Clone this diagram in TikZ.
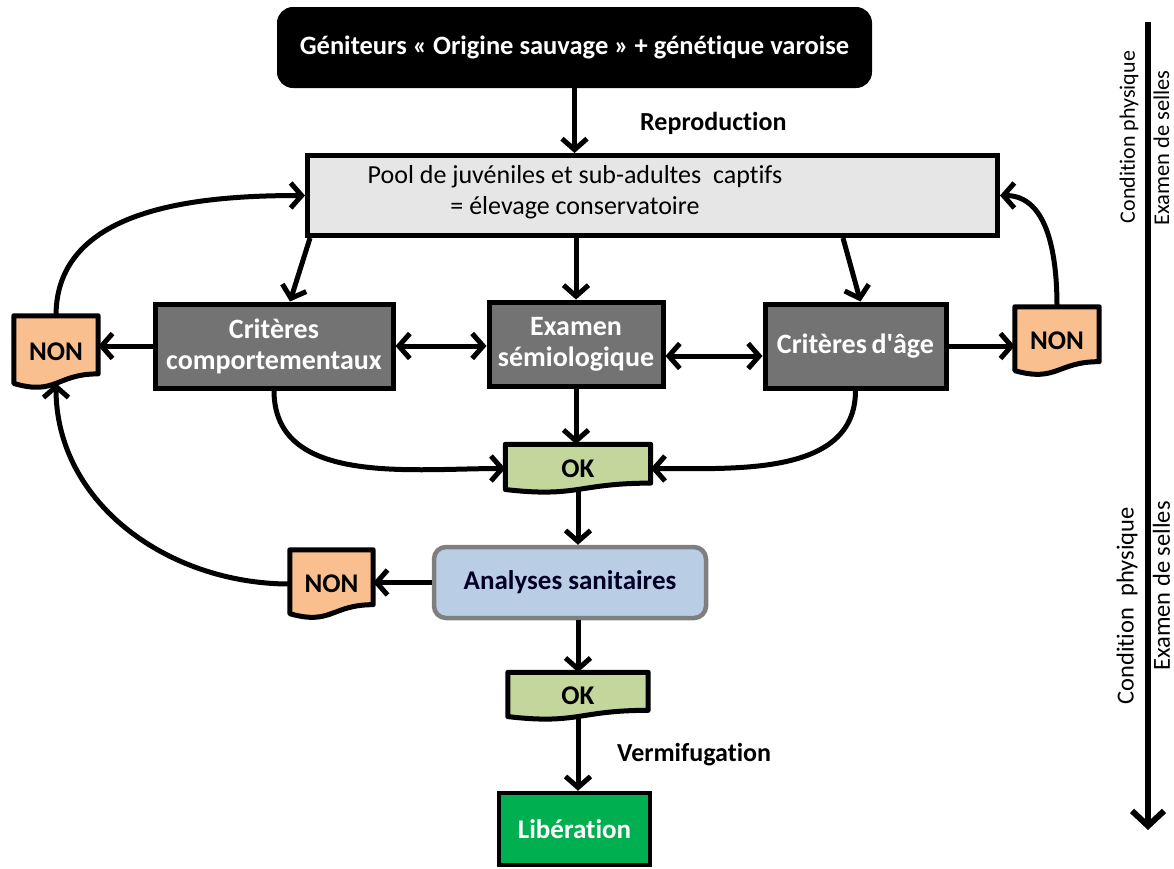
\documentclass[tikz,border=0pt]{standalone}
\usepackage{fontspec}
\setmainfont{Carlito}[Ligatures={NoCommon}]
\newfontfamily\nomap{Carlito}[Ligatures={NoCommon}]
\usetikzlibrary{arrows.meta,calc,backgrounds}
\definecolor{nonfill}{HTML}{F9BF8F}
\definecolor{okfill}{HTML}{C3D69B}
\definecolor{poolfill}{HTML}{E6E6E6}
\definecolor{grayfill}{HTML}{737373}
\definecolor{sanfill}{HTML}{B9CDE5}
\definecolor{sanborder}{HTML}{7F7F7F}
\definecolor{libfill}{HTML}{00B050}
\newcommand\mydocshape[2]{%
  \path[draw=black, line width=5pt, line join=round, fill=#2]
    (#1.north west) -- (#1.north east)
    -- ($(#1.north east)!0.802!(#1.south east)$)
    .. controls ($(#1.north)!0.802!(#1.south)$) and ($(#1.north)!1.107!(#1.south)$)
    .. ($(#1.north west)!0.934!(#1.south west)$) -- cycle;}
\begin{document}
\begin{tikzpicture}[x=1pt,y=1pt,
  bigfont/.style={font=\bfseries\fontsize{28}{31}\selectfont},
  topbox/.style={draw=black, fill=black, line width=4pt, rounded corners=14pt, inner sep=0pt, text=white, font=\bfseries\fontsize{26.5}{30}\selectfont},
  poolbox/.style={draw=black, fill=poolfill, line width=5pt, inner sep=0pt},
  pooltext/.style={align=center, inner sep=0pt, font=\fontsize{26}{31}\selectfont},
  graybox/.style={draw=black, fill=grayfill, line width=5pt, inner sep=0pt, align=center, text=white, bigfont},
  docnode/.style={inner sep=0pt, font=\bfseries\fontsize{27}{30}\selectfont},
  sanbox/.style={draw=sanborder, fill=sanfill, line width=4.5pt, rounded corners=12pt, inner sep=0pt, text={black!85!blue}, font=\bfseries\fontsize{27}{30}\selectfont},
  libbox/.style={draw=black, fill=libfill, line width=4.5pt, inner sep=0pt, text=white, font=\bfseries\fontsize{27}{30}\selectfont},
  lbl/.style={inner sep=0pt, anchor=west, font=\bfseries\fontsize{26}{30}\selectfont},
  sidetop/.style={inner sep=0pt, font=\fontsize{22}{26}\selectfont},
  sidetopb/.style={inner sep=0pt, font=\fontsize{22.5}{27}\selectfont},
  sidebot/.style={inner sep=0pt, font=\fontsize{24.5}{28}\selectfont},
  sidebotb/.style={inner sep=0pt, font=\fontsize{24.5}{29}\selectfont},
  conn/.style={line width=5pt, -{Straight Barb[length=11pt,width=25pt]}},
  dconn/.style={line width=5pt, {Straight Barb[length=11pt,width=25pt]}-{Straight Barb[length=11pt,width=25pt]}}
]
\useasboundingbox (0,0) rectangle (1174,-868);

% nodes
\node[topbox, minimum width=591, minimum height=77] (top) at (574.5,-47.5) {Géniteurs « Origine sauvage » + génétique varoise};
\node[poolbox, minimum width=690, minimum height=80] (pool) at (652.5,-195.5) {};
\node[pooltext] (pooltxt) at (575,-192.5) {Pool de juvéniles et sub-adultes\ \ captifs\\= élevage conservatoire};
\node[graybox, minimum width=238, minimum height=84] (crit) at (274,-346) {Critères\\comportementaux};
\node[graybox, minimum width=174, minimum height=84] (exam) at (576,-344) {Examen\\sémiologique};
\node[graybox, minimum width=181, minimum height=84] (age) at (855.5,-346) {Critères\,d{\nomap\symbol{39}}âge};
\node[docnode, minimum width=84, minimum height=72] (non1) at (56,-352) {NON};
\node[docnode, minimum width=84, minimum height=68] (non2) at (1057,-341) {NON};
\node[docnode, minimum width=145, minimum height=48] (ok1) at (578,-468.5) {OK};
\node[sanbox, minimum width=272, minimum height=71] (san) at (570,-582.5) {Analyses sanitaires};
\node[docnode, minimum width=83, minimum height=68] (non3) at (331.5,-584) {NON};
\node[docnode, minimum width=140, minimum height=47] (ok2) at (578,-696) {OK};
\node[libbox, minimum width=151, minimum height=72] (lib) at (574.5,-829) {Libération};
\node[lbl] (repro) at (640,-123) {Reproduction};
\node[lbl] (vermi) at (617,-755) {Vermifugation};

\begin{scope}[on background layer]
  \mydocshape{non1}{nonfill}
  \mydocshape{non2}{nonfill}
  \mydocshape{non3}{nonfill}
  \mydocshape{ok1}{okfill}
  \mydocshape{ok2}{okfill}
\end{scope}

% connectors
\draw[conn] (top.south) -- (top.south |- pool.north);
\draw[conn] ([xshift=5pt]pool.south west) -- ([xshift=16pt]crit.north);
\draw[conn] (exam.north |- pool.south) -- (exam.north);
\draw[conn] ([xshift=538pt]pool.south west) -- ([xshift=5pt]age.north);
\draw[conn] (crit.west) -- (crit.west -| non1.east);
\draw[dconn] (crit.east) -- (crit.east -| exam.west);
\draw[dconn] ([yshift=-12pt]exam.east) -- ([yshift=-12pt]exam.east -| age.west);
\draw[conn] (age.east) -- (age.east -| non2.west);
\draw[conn] (non1.north) to[out=90,in=180] (pool.west);
\draw[conn] (non2.north) to[out=90,in=0] (pool.east);
\draw[conn] (exam.south) -- (exam.south |- ok1.north);
\draw[conn] (crit.south) to[out=-90,in=180] (ok1.west);
\draw[conn] (age.south) to[out=-90,in=0] (ok1.east);
\draw[conn] ([yshift=3pt]ok1.south) -- (ok1.south |- san.north);
\draw[conn] (san.west) -- (san.west -| non3.east);
\draw[conn] (non3.west) to[out=180,in=-90] ([yshift=5pt]non1.south);
\draw[conn] (ok2.north |- san.south) -- (ok2.north);
\draw[conn] ([yshift=3pt]ok2.south) -- (ok2.south |- lib.north);

% timeline
\coordinate (tlA) at (1148,-22);
\coordinate (tlB) at (1148,-830);
\draw[line width=6pt, -{Straight Barb[length=15pt,width=32pt]}] (tlA) -- (tlB);
\node[sidetop, rotate=90] (cp1) at (1129,-137) {Condition physique};
\node[sidetopb, rotate=90] (es1) at (1161.5,-148) {Examen de selles};
\node[sidebot, rotate=90] (cp2) at (1127,-606) {Condition\ \ physique};
\node[sidebotb, rotate=90] (es2) at (1161.5,-586) {Examen de selles};
\end{tikzpicture}
\end{document}
